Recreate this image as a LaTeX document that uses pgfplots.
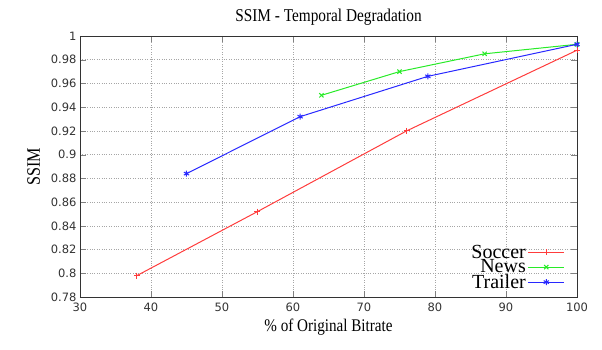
\documentclass[border=0pt]{standalone}
\usepackage{fontspec}
\setmainfont{Liberation Serif}
\setsansfont{DejaVu Sans}
\newfontfamily\labelfont[FakeStretch=0.85]{Liberation Serif}
\usepackage{pgfplots}
\pgfplotsset{compat=1.18}
\begin{document}
\begin{tikzpicture}[x=1pt,y=1pt]
\path[use as bounding box] (-80,-53) rectangle (522,297);
\begin{axis}[
  at={(0,0)}, anchor=south west,
  scale only axis, width=497pt, height=261pt,
  xmin=30, xmax=100, ymin=0.78, ymax=1,
  xtick={30,40,...,100},
  ytick={0.78,0.80,...,1.001},
  /pgf/number format/assume math mode=true,
  /pgf/number format/fixed, /pgf/number format/precision=2,
  tick label style={font=\sffamily\fontsize{11.5}{13}\selectfont, text=black!80},
  xticklabel style={yshift=-2pt},
  tick align=inside, tick pos=both,
  major tick length=6pt,
  grid=major,
  grid style={dotted, gray!70, line width=0.6pt},
  axis line style={black!80, line width=0.8pt},
  title={SSIM - Temporal Degradation},
  title style={font=\labelfont\fontsize{18}{20}\selectfont, yshift=1pt},
  xlabel={\% of Original Bitrate},
  xlabel style={font=\labelfont\fontsize{17.8}{20}\selectfont, yshift=-1pt},
  ylabel={SSIM},
  ylabel style={font=\labelfont\fontsize{19}{22}\selectfont, yshift=4pt},
  legend plot pos=right,
  legend style={draw=none, fill=none, at={(1,0)}, anchor=south east,
    xshift=-12pt, yshift=5pt,
    font=\fontsize{20}{22}\selectfont, row sep=-4pt, inner sep=0pt,
    cells={anchor=east, inner sep=1pt}},
  legend image code/.code={\draw[mark repeat=2, mark phase=2]
    plot coordinates {(0pt,0pt) (18pt,0pt) (36pt,0pt)};},
  every axis plot/.append style={line width=1pt, mark size=3pt},
]
\addplot[color={rgb,255:red,255;green,60;blue,60}, mark=+] coordinates {
  (38,0.798) (55,0.852) (76,0.920) (100,0.988)};
\addlegendentry{Soccer}
\addplot[color={rgb,255:red,40;green,235;blue,40}, mark=x] coordinates {
  (64,0.950) (75,0.970) (87,0.985) (100,0.993)};
\addlegendentry{News}
\addplot[color={rgb,255:red,40;green,40;blue,255}, mark=asterisk] coordinates {
  (45,0.884) (61,0.932) (79,0.966) (100,0.993)};
\addlegendentry{Trailer}
\end{axis}
\end{tikzpicture}
\end{document}
